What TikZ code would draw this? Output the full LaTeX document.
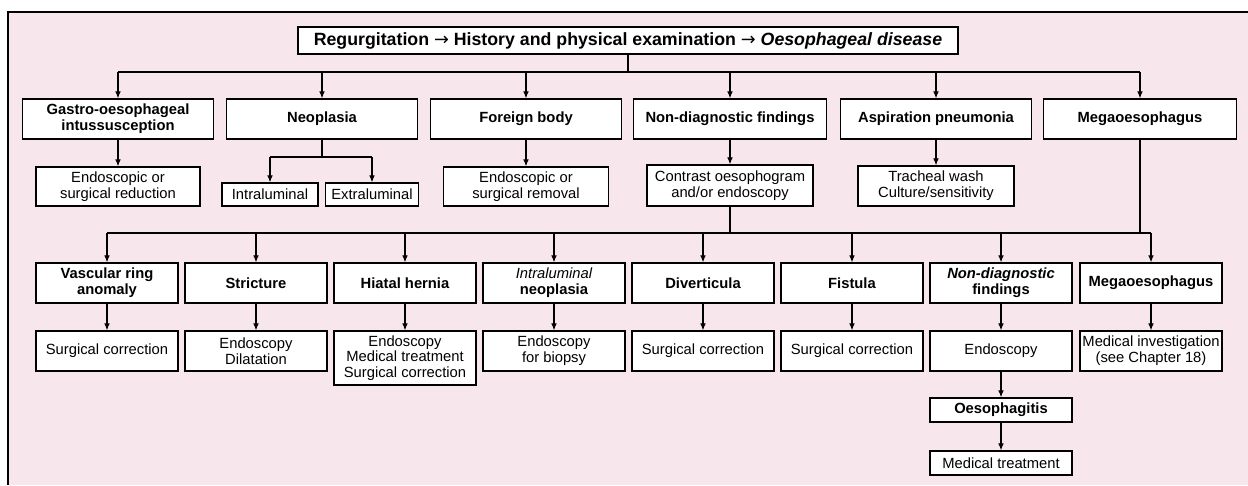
\documentclass[tikz,border=0pt]{standalone}
\usepackage{fontspec}
\setmainfont{Liberation Sans}
\newfontfamily\arrowfont{DejaVu Sans}
\usepackage{tikz}
\usetikzlibrary{arrows.meta}
\definecolor{pagepink}{HTML}{F7E6EB}
\tikzset{
  box/.style={draw, fill=white, line width=0.7pt, inner sep=1pt, align=center,
    font=\fontsize{8.4}{9}\selectfont},
  head/.style={box, font=\fontsize{8.4}{9}\selectfont\bfseries},
  link/.style={line width=0.6pt},
  arr/.style={link, -{Latex[length=4pt,width=3.2pt]}},
}
\newcommand{\thento}{{\arrowfont\mdseries →}}

\begin{document}
\begin{tikzpicture}[x=0.2mm, y=-0.2mm]
    \useasboundingbox (0,0) rectangle (1248,485);
    \fill[pagepink] (8,12) rectangle (1248,485);
    \draw[line width=1.2pt] (8,485) -- (8,12) -- (1248,12);

    % top line
    \node[box, font=\fontsize{10.1}{11}\selectfont\bfseries, minimum width=132mm, minimum height=5.4mm] (title) at (628,40.5)
        {Regurgitation \thento{} History and physical examination \thento{} \textit{Oesophageal disease}};

    % first row
    \node[head, minimum width=38.2mm, minimum height=8mm] (gastro) at (118,119) {Gastro-oesophageal\\intussusception};
    \node[head, minimum width=38.2mm, minimum height=8mm] (neoplasia) at (322,119) {Neoplasia};
    \node[head, minimum width=38.2mm, minimum height=8mm] (foreign) at (526,119) {Foreign body};
    \node[head, minimum width=38.6mm, minimum height=8mm] (nondiag) at (730,119) {Non-diagnostic findings};
    \node[head, minimum width=38.2mm, minimum height=8mm] (aspir) at (936,119) {Aspiration pneumonia};
    \node[head, minimum width=38.6mm, minimum height=8mm] (megaA) at (1140,119) {Megaoesophagus};

    % second row
    \node[box, minimum width=32.8mm, minimum height=7.8mm] (reduction) at (118,186.5) {Endoscopic or\\surgical reduction};
    \node[box, minimum width=19.2mm, minimum height=4.6mm] (intra) at (270,194.5) {Intraluminal};
    \node[box, minimum width=18.6mm, minimum height=4.6mm] (extra) at (372,194.5) {Extraluminal};
    \node[box, minimum width=33mm, minimum height=7.8mm] (removal) at (526,186.5) {Endoscopic or\\surgical removal};
    \node[box, minimum width=33.2mm, minimum height=8.2mm] (contrast) at (730,185.5) {Contrast oesophogram\\and/or endoscopy};
    \node[box, minimum width=31.2mm, minimum height=8mm] (tracheal) at (936,186) {Tracheal wash\\Culture/sensitivity};

    % third row
    \node[head, minimum width=28.4mm, minimum height=8mm] (vascular) at (107,283) {Vascular ring\\anomaly};
    \node[head, minimum width=28.4mm, minimum height=8mm] (stricture) at (256,283) {Stricture};
    \node[head, minimum width=28.4mm, minimum height=8mm] (hiatal) at (405,283) {Hiatal hernia};
    \node[head, minimum width=28.4mm, minimum height=8mm] (intraneo) at (554,283) {{\mdseries\itshape Intraluminal}\\neoplasia};
    \node[head, minimum width=28.4mm, minimum height=8mm] (divert) at (703,283) {Diverticula};
    \node[head, minimum width=28.4mm, minimum height=8mm] (fistula) at (852,283) {Fistula};
    \node[head, minimum width=28.4mm, minimum height=8mm] (nondiagB) at (1001,283) {\textit{Non-diagnostic}\\findings};
    \node[head, minimum width=28.4mm, minimum height=8mm] (megaB) at (1151,283) {Megaoesophagus};

    % fourth row
    \node[box, minimum width=28.4mm, minimum height=8mm] (vascularT) at (107,351) {Surgical correction};
    \node[box, minimum width=28.4mm, minimum height=8mm] (strictureT) at (256,351) {Endoscopy\\Dilatation};
    \node[box, minimum width=28.4mm, minimum height=10.8mm] (hiatalT) at (405,358) {Endoscopy\\Medical treatment\\Surgical correction};
    \node[box, minimum width=28.4mm, minimum height=8mm] (intraneoT) at (554,351) {Endoscopy\\for biopsy};
    \node[box, minimum width=28.4mm, minimum height=8mm] (divertT) at (703,351) {Surgical correction};
    \node[box, minimum width=28.4mm, minimum height=8mm] (fistulaT) at (852,351) {Surgical correction};
    \node[box, minimum width=28.4mm, minimum height=8mm] (endoscopy) at (1001,351) {Endoscopy};
    \node[box, minimum width=28.4mm, minimum height=8mm] (megaT) at (1151,351) {Medical investigation\\(see Chapter 18)};
    \node[head, minimum width=28.4mm, minimum height=4.8mm] (oesoph) at (1001,410) {Oesophagitis};
    \node[box, minimum width=28.4mm, minimum height=4.8mm] (medtreat) at (1001,463) {Medical treatment};

    % upper branching
    \coordinate (split) at (628,72);
    \draw[link] (title) -- (split);
    \draw[link] (gastro.north |- split) -- (megaA.north |- split);
    \foreach \n in {gastro,neoplasia,foreign,nondiag,aspir,megaA}
        \draw[arr] (\n.north |- split) -- (\n);

    \draw[arr] (gastro) -- (reduction);
    \coordinate (neosplit) at (322,157);
    \draw[link] (neoplasia) -- (neosplit);
    \draw[link] (intra.north |- neosplit) -- (extra.north |- neosplit);
    \draw[arr] (intra.north |- neosplit) -- (intra);
    \draw[arr] (extra.north |- neosplit) -- (extra);
    \draw[arr] (foreign) -- (removal);
    \draw[arr] (nondiag) -- (contrast);
    \draw[arr] (aspir) -- (tracheal);

    % lower branching
    \coordinate (split2) at (730,233);
    \draw[link] (contrast) -- (split2);
    \draw[link] (megaA) -- (megaA.south |- split2);
    \draw[link] (vascular.north |- split2) -- (megaB.north |- split2);
    \foreach \n in {vascular,stricture,hiatal,intraneo,divert,fistula,nondiagB,megaB}
        \draw[arr] (\n.north |- split2) -- (\n);

    \draw[arr] (vascular) -- (vascularT);
    \draw[arr] (stricture) -- (strictureT);
    \draw[arr] (hiatal) -- (hiatalT);
    \draw[arr] (intraneo) -- (intraneoT);
    \draw[arr] (divert) -- (divertT);
    \draw[arr] (fistula) -- (fistulaT);
    \draw[arr] (nondiagB) -- (endoscopy);
    \draw[arr] (megaB) -- (megaT);
    \draw[arr] (endoscopy) -- (oesoph);
    \draw[arr] (oesoph) -- (medtreat);
\end{tikzpicture}
\end{document}
